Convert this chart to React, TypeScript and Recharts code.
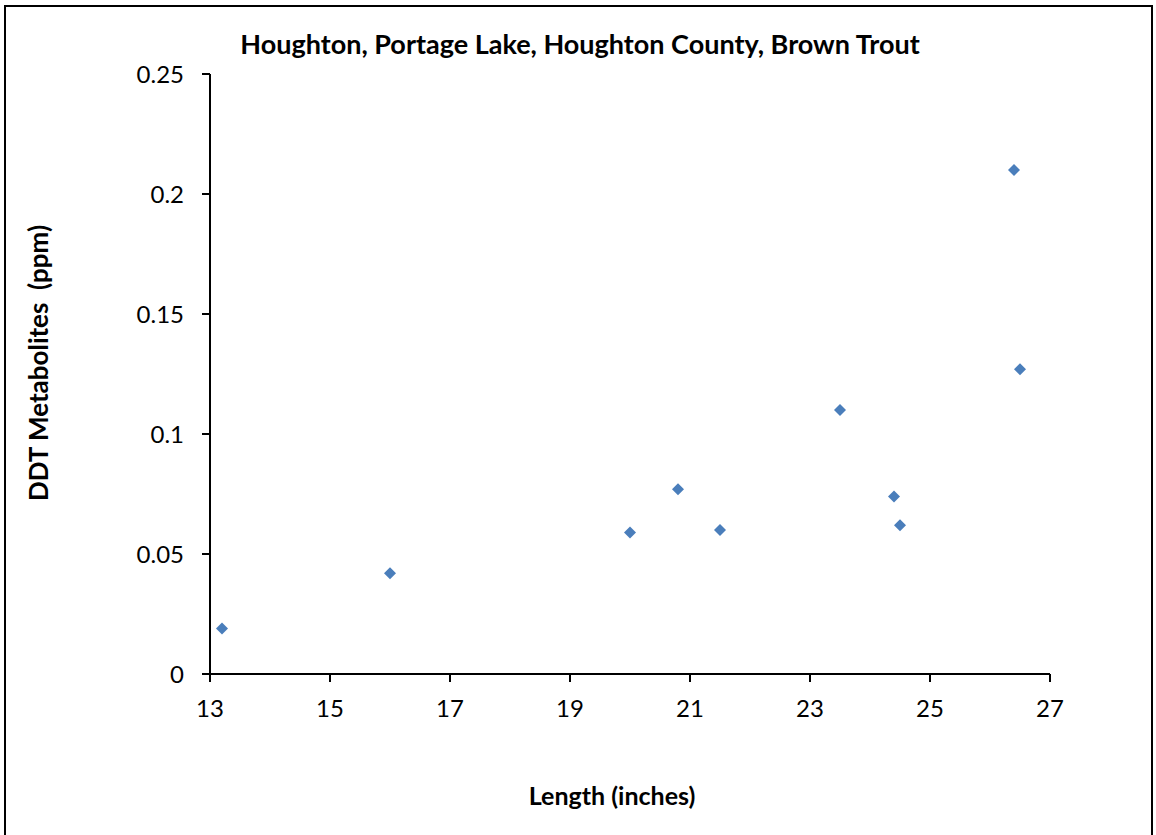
import React from 'react';
import { ScatterChart, Scatter, XAxis, YAxis, Customized } from 'recharts';

const lengths = [13.2, 16, 20, 20.8, 21.5, 23.5, 24.4, 24.5, 26.4, 26.5];
const ddtValues = [0.019, 0.042, 0.059, 0.077, 0.06, 0.11, 0.074, 0.062, 0.21, 0.127];
const xTicks = [13, 15, 17, 19, 21, 23, 25, 27];
const yTicks = [0, 0.05, 0.1, 0.15, 0.2, 0.25];

const titleText = 'Houghton, Portage Lake, Houghton County, Brown Trout';
const xLabel = 'Length (inches)';
const yLabel = 'DDT Metabolites  (ppm)';

const data = lengths.map((x, i) => ({ x, y: ddtValues[i] }));

const FONT = 'Lato, "Noto Sans", sans-serif';
const COLOR = '#4A7EBB';

const Diamond = (props: any) => {
  const { cx, cy } = props;
  const r = 6;
  return (
    <polygon
      points={`${cx},${cy - r} ${cx + r},${cy} ${cx},${cy + r} ${cx - r},${cy}`}
      fill={COLOR}
    />
  );
};

const Texts = () => (
  <g fontFamily={FONT} fontWeight="bold" fill="#000">
    <text x={580} y={54} textAnchor="middle" fontSize={27}>
      {titleText}
    </text>
    <text x={612} y={805} textAnchor="middle" fontSize={25}>
      {xLabel}
    </text>
    <text
      x={48}
      y={363}
      textAnchor="middle"
      fontSize={26}
      style={{ whiteSpace: 'pre' }}
      transform="rotate(-90, 48, 363)"
    >
      {yLabel}
    </text>
  </g>
);

export default function App() {
  return (
    <div
      style={{
        position: 'absolute',
        left: 0,
        top: 0,
        width: 1156,
        height: 835,
        overflow: 'hidden',
        background: '#fff',
      }}
    >
      <div
        style={{
          position: 'absolute',
          left: 4,
          top: 5,
          width: 1149,
          height: 900,
          border: '2px solid #000',
          boxSizing: 'border-box',
        }}
      />
      <div style={{ position: 'absolute', left: 0, top: 0 }}>
        <ScatterChart
          width={1156}
          height={835}
          margin={{ top: 74, right: 106, bottom: 131, left: 150 }}
        >
          <XAxis
            type="number"
            dataKey="x"
            domain={[13, 27]}
            ticks={xTicks}
            interval={0}
            allowDataOverflow
            height={30}
            axisLine={{ stroke: '#000', strokeWidth: 2 }}
            tickLine={{ stroke: '#000', strokeWidth: 2 }}
            tickSize={8}
            tickMargin={18}
            tick={{ fill: '#000', fontSize: 24, fontFamily: FONT }}
          />
          <YAxis
            type="number"
            dataKey="y"
            domain={[0, 0.25]}
            ticks={yTicks}
            interval={0}
            allowDataOverflow
            width={60}
            axisLine={{ stroke: '#000', strokeWidth: 2 }}
            tickLine={{ stroke: '#000', strokeWidth: 2 }}
            tickSize={8}
            tickMargin={18}
            tick={{ fill: '#000', fontSize: 24, fontFamily: FONT }}
          />
          <Scatter data={data} shape={Diamond} isAnimationActive={false} />
          <Customized component={Texts} />
        </ScatterChart>
      </div>
    </div>
  );
}
